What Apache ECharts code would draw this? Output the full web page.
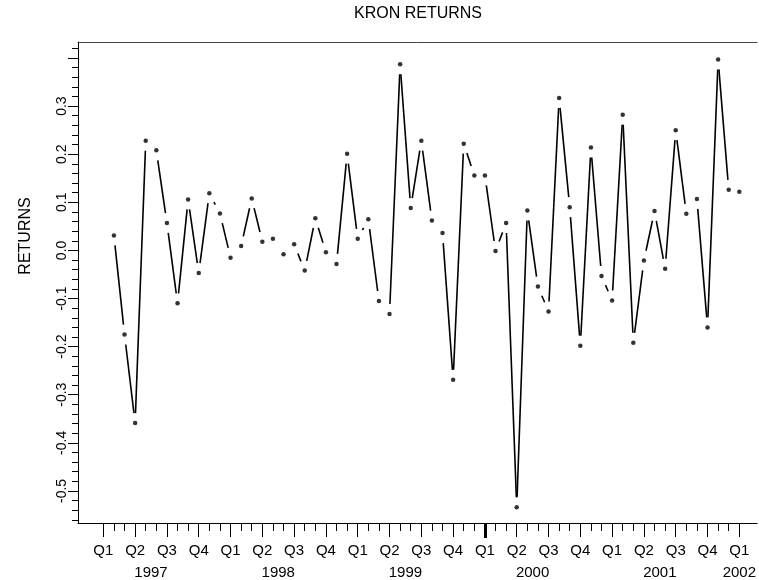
<!DOCTYPE html>
<html>
<head>
<meta charset="utf-8">
<script src="https://cdn.jsdelivr.net/npm/echarts@6/dist/echarts.min.js"></script>
<style>
  html, body { margin: 0; padding: 0; background: #fff; }
  #chart { width: 759px; height: 580px; }
</style>
</head>
<body>
<div id="chart"></div>
<script>
// monthly returns, Feb 1997 .. Jan 2002 (month index 0 = Jan 1997)
const firstMonth = 1;
const returns = [
    0.031, -0.175, -0.359, 0.228, 0.208, 0.057, -0.110, 0.106, -0.047, 0.119, 0.077,
    -0.015, 0.009, 0.108, 0.018, 0.024, -0.008, 0.013, -0.042, 0.067, -0.004, -0.028, 0.201,
    0.024, 0.065, -0.105, -0.132, 0.387, 0.088, 0.228, 0.062, 0.036, -0.269, 0.222, 0.156,
    0.156, -0.001, 0.057, -0.534, 0.083, -0.075, -0.127, 0.317, 0.090, -0.198, 0.214, -0.053,
    -0.104, 0.282, -0.192, -0.021, 0.082, -0.038, 0.250, 0.076, 0.107, -0.160, 0.397, 0.126,
    0.122
];
const firstYear = 1997;
const quarterTicks = [0, 3, 6, 9, 12, 15, 18, 21, 24, 27, 30, 33, 36, 39, 42, 45, 48, 51, 54, 57, 60];
const yearLabelPos = [4.5, 16.5, 28.5, 40.5, 52.5, 60];
const yMajorTicks = [-0.5, -0.4, -0.3, -0.2, -0.1, 0, 0.1, 0.2, 0.3, 0.4];
const yLabels = [-0.5, -0.4, -0.3, -0.2, -0.1, 0, 0.1, 0.2, 0.3];

const X_MIN = -2.39, X_MAX = 61.67;
const Y_MIN = -0.5667, Y_MAX = 0.4333;
const GAP = 10;
const FONT = 'Liberation Sans, Arial, sans-serif';

const points = returns.map((v, i) => [firstMonth + i, v]);
const segments = [];
for (let i = 0; i < points.length - 1; i++) {
    segments.push([points[i][0], points[i][1], points[i + 1][0], points[i + 1][1]]);
}
const monthTicks = [];
for (let m = 0; m <= 60; m++) monthTicks.push(m);
const yMinorTicks = [];
for (let k = -28; k <= 21; k++) yMinorTicks.push(Math.round(k * 2) / 100);

const lineStyle = {color: '#000', width: 1};
const hiddenLine = {show: false, onZero: false};
const baseX = {
    type: 'value', min: X_MIN, max: X_MAX, position: 'bottom',
    splitLine: {show: false}, axisLine: hiddenLine,
    axisTick: {show: false}, axisLabel: {show: false}
};
const baseY = {
    type: 'value', min: Y_MIN, max: Y_MAX, position: 'left',
    splitLine: {show: false}, axisLine: hiddenLine,
    axisTick: {show: false}, axisLabel: {show: false}
};

function renderSegment(params, api) {
    const a = api.coord([api.value(0), api.value(1)]);
    const b = api.coord([api.value(2), api.value(3)]);
    const dx = b[0] - a[0], dy = b[1] - a[1];
    const d = Math.hypot(dx, dy);
    if (d <= 2 * GAP) return null;
    const ux = dx / d, uy = dy / d;
    return {
        type: 'line',
        shape: {x1: a[0] + ux * GAP, y1: a[1] + uy * GAP, x2: b[0] - ux * GAP, y2: b[1] - uy * GAP},
        style: {stroke: '#000', lineWidth: 1.6}
    };
}

const chart = echarts.init(document.getElementById('chart'));
chart.setOption({
    animation: false,
    backgroundColor: '#fff',
    grid: {left: 78, top: 42, right: 0, bottom: 56},
    graphic: [
        {type: 'text', x: 418, y: 14, style: {text: 'KRON RETURNS', font: '16px ' + FONT, fill: '#000', textAlign: 'center', textVerticalAlign: 'middle'}},
        {type: 'text', x: 26, y: 236, rotation: Math.PI / 2, style: {text: 'RETURNS', font: '16px ' + FONT, fill: '#000', textAlign: 'center', textVerticalAlign: 'middle'}}
    ],
    xAxis: [
        Object.assign({}, baseX, {
            axisLine: {show: true, onZero: false, lineStyle},
            axisTick: {show: true, length: 8, customValues: monthTicks, lineStyle}
        }),
        Object.assign({}, baseX, {
            axisTick: {show: true, length: 14, customValues: quarterTicks, lineStyle},
            axisLabel: {
                show: true, margin: 20, customValues: quarterTicks, hideOverlap: false,
                color: '#000', fontSize: 15, fontFamily: FONT,
                formatter: v => 'Q' + (Math.round(v / 3) % 4 + 1)
            }
        }),
        Object.assign({}, baseX, {
            axisLabel: {
                show: true, margin: 42, customValues: yearLabelPos, hideOverlap: false,
                color: '#000', fontSize: 15, fontFamily: FONT,
                formatter: v => String(firstYear + Math.floor(v / 12))
            }
        }),
        Object.assign({}, baseX, {
            position: 'top',
            axisLine: {show: true, onZero: false, lineStyle: {color: '#444', width: 1}}
        }),
        Object.assign({}, baseX, {
            axisTick: {show: true, length: 15, customValues: [36], lineStyle: {color: '#000', width: 3}}
        })
    ],
    yAxis: [
        Object.assign({}, baseY, {
            axisLine: {show: true, onZero: false, lineStyle},
            axisTick: {show: true, length: 10, customValues: yMajorTicks, lineStyle},
            axisLabel: {
                show: true, margin: 9, rotate: 90, customValues: yLabels, hideOverlap: false,
                color: '#000', fontSize: 14, fontFamily: FONT,
                formatter: v => v.toFixed(1)
            }
        }),
        Object.assign({}, baseY, {
            axisTick: {show: true, length: 6, customValues: yMinorTicks, lineStyle}
        })
    ],
    series: [
        {
            type: 'custom',
            xAxisIndex: 0, yAxisIndex: 0,
            renderItem: renderSegment,
            encode: {x: [0, 2], y: [1, 3]},
            data: segments,
            silent: true
        },
        {
            type: 'scatter',
            xAxisIndex: 0, yAxisIndex: 0,
            symbol: 'circle', symbolSize: 4.5,
            itemStyle: {color: '#000'},
            data: points,
            silent: true
        }
    ]
});
</script>
</body>
</html>
